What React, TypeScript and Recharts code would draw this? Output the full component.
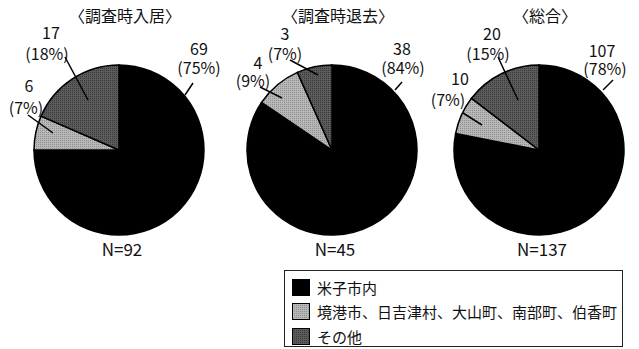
import React from "react";
import { Cell, Pie, PieChart } from "recharts";

const categories = ["米子市内", "境港市、日吉津村、大山町、南部町、伯香町", "その他"];

const chartTitles = ["〈調査時入居〉", "〈調査時退去〉", "〈総合〉"];

const moveInValues = [69, 6, 17];
const moveOutValues = [38, 4, 3];
const totalValues = [107, 10, 20];

const seriesValues = [moveInValues, moveOutValues, totalValues];

const sliceFills = ["#000000", "url(#patLight)", "url(#patDark)"];
const legendFills = ["#000000", "url(#patLight)", "url(#patDark)"];

const FONT = '"Noto Sans CJK JP", "Noto Sans", sans-serif';

// where each pie sits and where its labels go (offsets from the pie centre)
const pieCentres = [
  { cx: 119, cy: 150 },
  { cx: 332, cy: 150 },
  { cx: 539, cy: 150 }
];

type LabelSpot = { line: [number, number, number, number]; num: [number, number]; pct: [number, number] };

const labelLayout: LabelSpot[][] = [
  [
    { line: [66, -55, 74, -67], num: [80, -102], pct: [80, -83] },
    { line: [-66, -17, -91, -35], num: [-90, -65], pct: [-93, -43] },
    { line: [-31, -50, -54, -93], num: [-68, -118], pct: [-72, -97] }
  ],
  [
    { line: [63, -60, 70, -68], num: [70, -102], pct: [71, -83] },
    { line: [-50, -52, -72, -63], num: [-74, -88], pct: [-79, -70] },
    { line: [-14, -75, -42, -90], num: [-47, -117], pct: [-47, -97] }
  ],
  [
    { line: [64, -60, 74, -70], num: [63, -100], pct: [66, -82] },
    { line: [-57, -25, -76, -37], num: [-79, -72], pct: [-91, -51] },
    { line: [-21, -50, -41, -93], num: [-47, -117], pct: [-51, -97] }
  ]
];

function makeLabel(chart: number) {
  const values = seriesValues[chart];
  const total = values.reduce((a, b) => a + b, 0);
  return (props: any) => {
    const { cx, cy, index, value } = props;
    const spot = labelLayout[chart][index];
    const pct = Math.round((value / total) * 100);
    return (
      <g>
        <line
          x1={cx + spot.line[0]}
          y1={cy + spot.line[1]}
          x2={cx + spot.line[2]}
          y2={cy + spot.line[3]}
          stroke="#000"
          strokeWidth={1.5}
        />
        <text x={cx + spot.num[0]} y={cy + spot.num[1]} textAnchor="middle" dominantBaseline="central" fontSize={16} fill="#111" fontFamily={FONT}>
          {value}
        </text>
        <text x={cx + spot.pct[0]} y={cy + spot.pct[1]} textAnchor="middle" dominantBaseline="central" fontSize={16} fill="#111" fontFamily={FONT}>
          {`(${pct}%)`}
        </text>
        {index === 0 ? (
          <>
            <text x={cx + 6} y={cy - 135} textAnchor="middle" dominantBaseline="central" fontSize={16} fill="#111" fontFamily={FONT}>
              {chartTitles[chart]}
            </text>
            <text x={cx + 3} y={cy + 98} textAnchor="middle" dominantBaseline="central" fontSize={17} fill="#111" fontFamily={FONT}>
              {`N=${total}`}
            </text>
          </>
        ) : null}
      </g>
    );
  };
}

function LegendBox() {
  return (
    <div
      style={{
        position: "absolute",
        left: 284,
        top: 270,
        border: "1px solid #222",
        background: "#fff",
        width: 339,
        height: 77,
        boxSizing: "border-box",
        padding: "4px 0 0 7px",
        fontFamily: FONT,
        fontSize: 15,
        color: "#111"
      }}
    >
      {categories.map((name, i) => (
        <div key={name} style={{ display: "flex", alignItems: "center", height: 24.5 }}>
          <svg width={18} height={17} style={{ marginRight: 7, flex: "none" }}>
            <rect x={0.5} y={0.5} width={17} height={16} fill={legendFills[i]} stroke="#000" />
          </svg>
          <span>{name}</span>
        </div>
      ))}
    </div>
  );
}

export default function App() {
  return (
    <div style={{ position: "absolute", left: 0, top: 0, width: 639, height: 349, background: "#fff" }}>
      <PieChart width={639} height={349} margin={{ top: 0, right: 0, bottom: 0, left: 0 }}>
        <defs>
          <pattern id="patLight" width="2" height="2" patternUnits="userSpaceOnUse">
            <rect width="2" height="2" fill="#b8b8b8" />
            <rect width="1" height="1" fill="#8e8e8e" />
          </pattern>
          <pattern id="patDark" width="2" height="2" patternUnits="userSpaceOnUse">
            <rect width="2" height="2" fill="#5c5c5c" />
            <rect width="1" height="1" fill="#383838" />
          </pattern>
        </defs>
        {seriesValues.map((values, chart) => (
          <Pie
            key={chart}
            data={values.map((v, i) => ({ name: categories[i], value: v }))}
            dataKey="value"
            nameKey="name"
            cx={pieCentres[chart].cx}
            cy={pieCentres[chart].cy}
            outerRadius={85}
            startAngle={90}
            endAngle={-270}
            stroke="#000"
            strokeWidth={1.5}
            label={makeLabel(chart)}
            labelLine={false}
            isAnimationActive={false}
          >
            {values.map((_, i) => (
              <Cell key={i} fill={sliceFills[i]} />
            ))}
          </Pie>
        ))}
      </PieChart>
      <LegendBox />
    </div>
  );
}
